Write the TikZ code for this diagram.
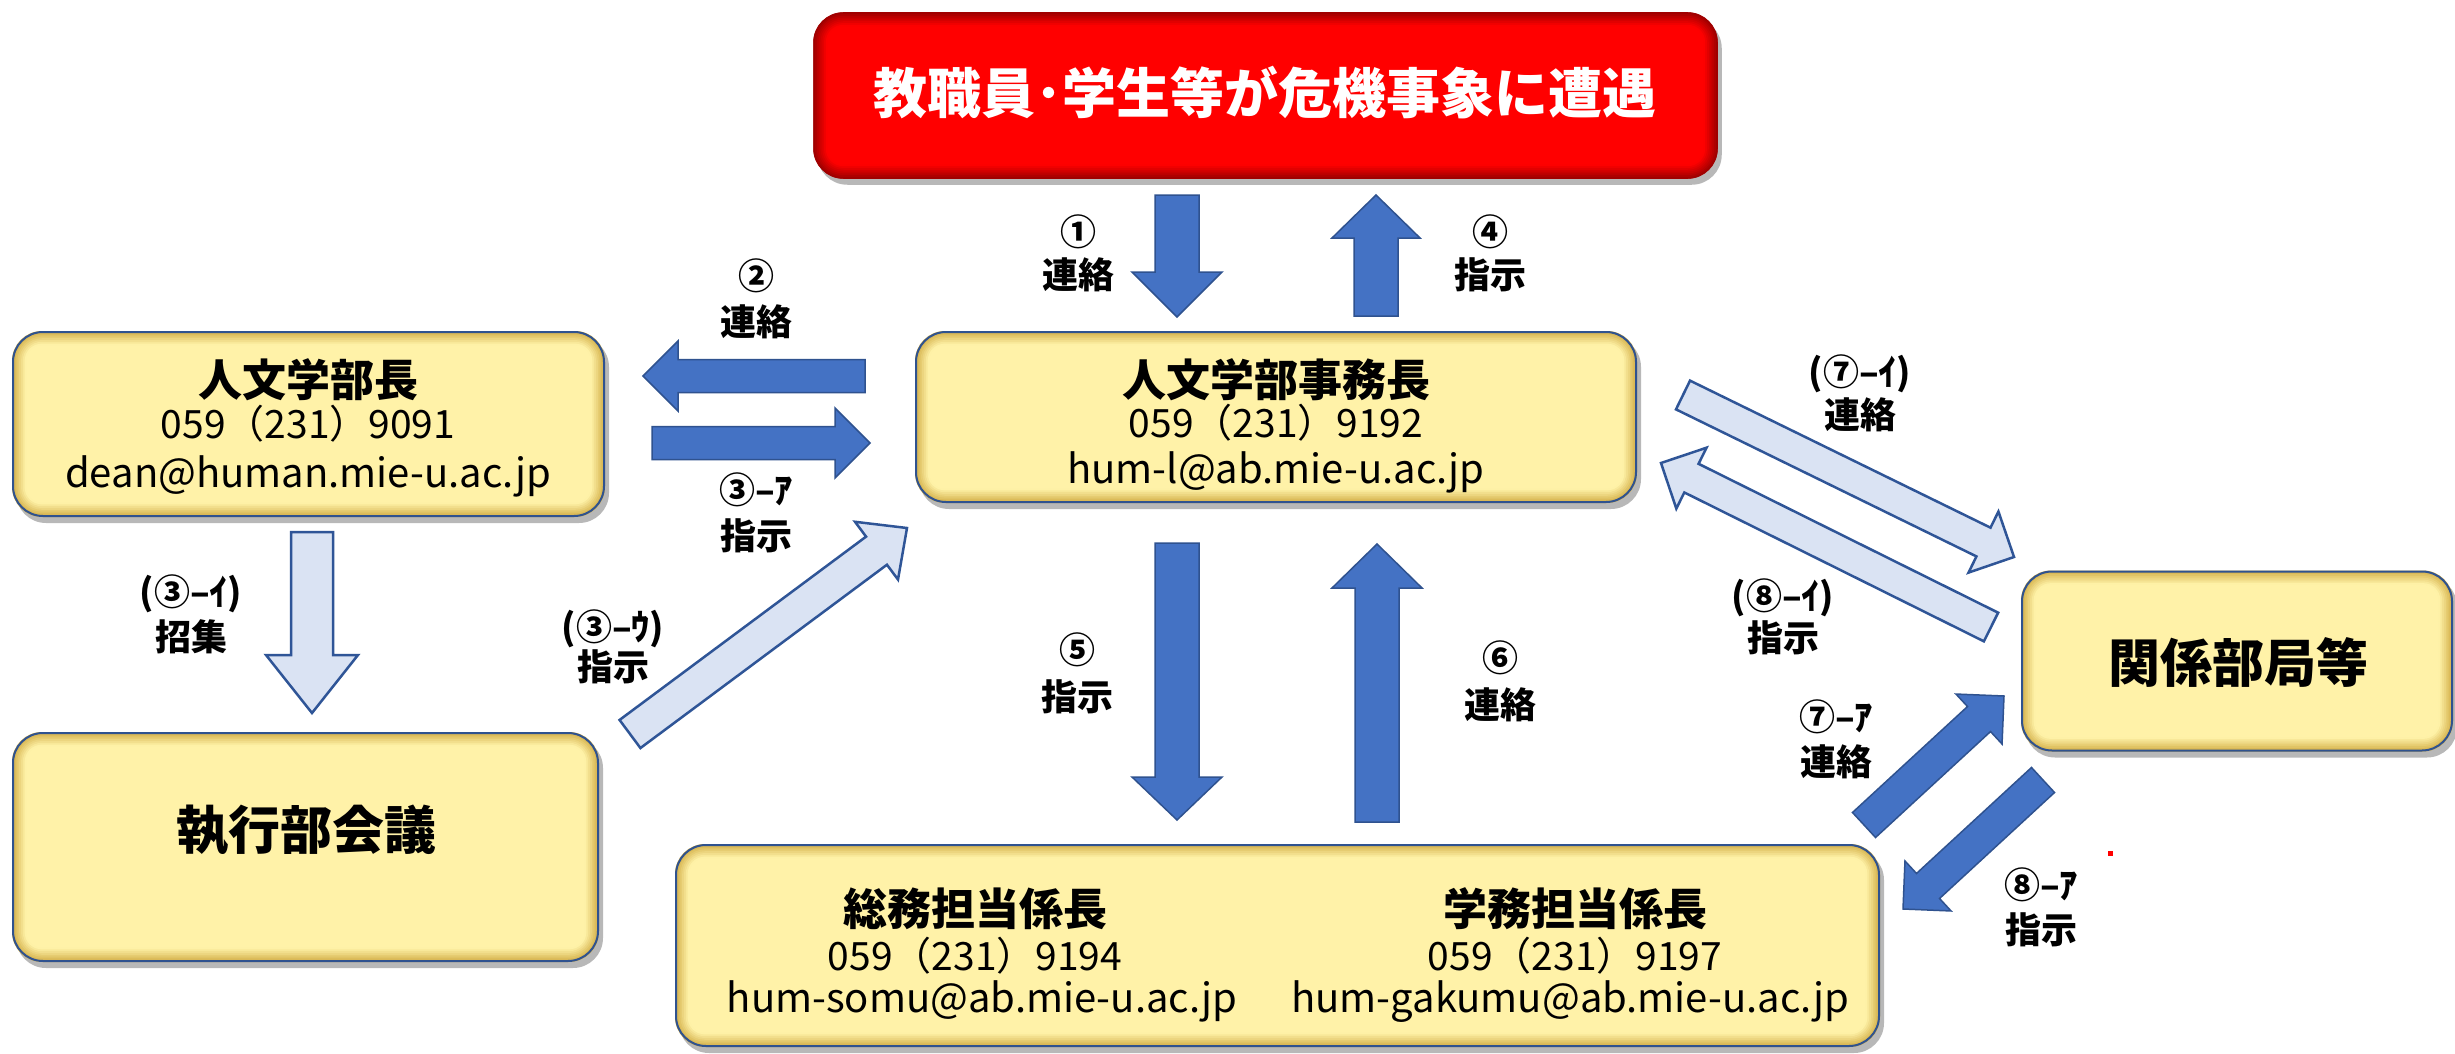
\documentclass[tikz,border=0pt]{standalone}
\usepackage{fontspec}
\setmainfont{Noto Sans CJK JP}
\usetikzlibrary{calc}
\pgfdeclarelayer{bg}
\pgfsetlayers{bg,main}
\definecolor{ylight}{HTML}{FFF2A8}
\definecolor{ydark}{HTML}{D4B04A}
\definecolor{edgeblue}{HTML}{2F528F}
\definecolor{darkarrow}{HTML}{4472C4}
\definecolor{lightarrow}{HTML}{DAE3F3}
\definecolor{lightedge}{HTML}{2F5597}
\definecolor{rlight}{HTML}{FF0000}
\definecolor{rdark}{HTML}{A00000}

% bevelled fill under a node: #1 node, #2 dark colour, #3 light colour, #4 radius (number)
\newcommand\bevelfill[4]{%
  \fill[black,opacity=.28,rounded corners=#4pt] ($(#1.south west)+(4,6)$) rectangle ($(#1.north east)+(4,6)$);
  \foreach \i in {0,...,8}{%
    \pgfmathtruncatemacro\pp{min(100,\i*14)}%
    \pgfmathsetmacro\dd{\i*1.8}%
    \pgfmathsetmacro\rr{max(1,#4-\i*1.8)}%
    \fill[#3!\pp!#2, rounded corners=\rr pt] ($(#1.south west)+(\dd,-\dd)$) rectangle ($(#1.north east)+(-\dd,\dd)$);
  }%
}
% block arrow: #1 style, #2 start, #3 tip, #4 shaft half width, #5 head half width, #6 head length
\newcommand\blockarr[6]{%
  \path ($(#3)!#6!(#2)$) coordinate (hb);
  \draw[#1] ($(#2)!#4!90:(#3)$) -- ($(hb)!#4!90:(#3)$) -- ($(hb)!#5!90:(#3)$) -- (#3)
    -- ($(hb)!#5!-90:(#3)$) -- ($(hb)!#4!-90:(#3)$) -- ($(#2)!#4!-90:(#3)$) -- cycle;
}

\begin{document}
\begin{tikzpicture}[x=1pt,y=-1pt,
  box/.style={draw=edgeblue, line width=2pt, rounded corners=30pt, inner sep=0pt},
  redbox/.style={draw=rdark, line width=1.5pt, rounded corners=30pt, inner sep=0pt},
  ttl/.style={inner sep=0pt, text height=34pt, text depth=0pt, font=\bfseries\fontsize{44}{48}\selectfont},
  phn/.style={inner sep=0pt, text height=28.5pt, text depth=0pt, font=\fontsize{39}{44}\selectfont},
  eml/.style={inner sep=0pt, text height=24pt, text depth=0pt, font=\fontsize{40}{44}\selectfont},
  big/.style={inner sep=0pt, text height=40pt, text depth=0pt, font=\bfseries\fontsize{52}{56}\selectfont},
  redt/.style={inner sep=0pt, text height=40pt, text depth=0pt, text=white, font=\bfseries\fontsize{54}{58}\selectfont},
  lbl/.style={inner sep=0pt, text height=27pt, text depth=0pt, font=\bfseries\fontsize{36}{40}\selectfont},
  darr/.style={fill=darkarrow, draw=edgeblue, line width=1.5pt, line join=miter},
  larr/.style={fill=lightarrow, draw=lightedge, line width=2.5pt, line join=miter}
]
\useasboundingbox (0,0) rectangle (2455,1054);

% ---- boxes ----
\node[redbox, minimum width=903pt, minimum height=165pt] (red) at (1265.5,95.5) {};
\node[box, minimum width=591pt, minimum height=184pt] (dean) at (308.5,424) {};
\node[box, minimum width=720pt, minimum height=170pt] (office) at (1276,417) {};
\node[box, minimum width=585pt, minimum height=228pt] (exec) at (305.5,847) {};
\node[box, minimum width=1203pt, minimum height=201pt] (staff) at (1277.5,945.5) {};
\node[box, minimum width=430pt, minimum height=179pt] (kankei) at (2237,661) {};

\begin{pgfonlayer}{bg}
  \fill[white] (0,0) rectangle (2455,1054);
  \bevelfill{red}{rdark}{rlight}{30}
  \bevelfill{dean}{ydark}{ylight}{30}
  \bevelfill{office}{ydark}{ylight}{30}
  \bevelfill{exec}{ydark}{ylight}{30}
  \bevelfill{staff}{ydark}{ylight}{30}
  \bevelfill{kankei}{ydark}{ylight}{30}
\end{pgfonlayer}

% ---- texts ----
\node[redt] (redT) at (1265,94) {教職員･学生等が危機事象に遭遇};

\node[ttl] (deanT) at (308,379) {人文学部長};
\node[phn] (deanP) at (308,424) {059（231）9091};
\node[eml] (deanE) at (308,475) {dean@human.mie-u.ac.jp};

\node[ttl] (officeT) at (1276,379) {人文学部事務長};
\node[phn] (officeP) at (1276,423) {059（231）9192};
\node[eml] (officeE) at (1276,471) {hum-l@ab.mie-u.ac.jp};

\node[big] (execT) at (306,829) {執行部会議};
\node[big] (kankeiT) at (2238,662) {関係部局等};

\node[ttl] (somuT) at (975,908) {総務担当係長};
\node[phn] (somuP) at (975,956) {059（231）9194};
\node[eml] (somuE) at (982,1000) {hum-somu@ab.mie-u.ac.jp};
\node[ttl] (gakuT) at (1575,908) {学務担当係長};
\node[phn] (gakuP) at (1575,956) {059（231）9197};
\node[eml] (gakuE) at (1570,1000) {hum-gakumu@ab.mie-u.ac.jp};

% ---- arrow end points ----
\coordinate (a1s) at (1177,195);  \coordinate (a1e) at (1177,317);
\coordinate (a4s) at (1376,316);  \coordinate (a4e) at (1376,195);
\coordinate (a2s) at (865,376);   \coordinate (a2e) at (643,376);
\coordinate (a3s) at (652,443);   \coordinate (a3e) at (870,443);
\coordinate (a5s) at (1177,543);  \coordinate (a5e) at (1177,820);
\coordinate (a6s) at (1377,822);  \coordinate (a6e) at (1377,544);
\coordinate (a7s) at (1864,825);  \coordinate (a7e) at (2004,696);
\coordinate (a8s) at (2043,780);  \coordinate (a8e) at (1903,909);
\coordinate (b3is) at (312,532);  \coordinate (b3ie) at (312,713);
\coordinate (b3us) at (630,734);  \coordinate (b3ue) at (907,528);
\coordinate (b7s) at (1683,395);  \coordinate (b7e) at (2014,557);
\coordinate (b8s) at (1991,627);  \coordinate (b8e) at (1661,463);

% ---- dark arrows ----
\blockarr{darr}{a1s}{a1e}{22pt}{45pt}{45pt}
\blockarr{darr}{a4s}{a4e}{22pt}{44pt}{43pt}
\blockarr{darr}{a2s}{a2e}{16.5pt}{35pt}{35pt}
\blockarr{darr}{a3s}{a3e}{16.5pt}{35pt}{35pt}
\blockarr{darr}{a5s}{a5e}{22pt}{45pt}{43pt}
\blockarr{darr}{a6s}{a6e}{22pt}{45pt}{44pt}
\blockarr{darr}{a7s}{a7e}{17pt}{34pt}{34pt}
\blockarr{darr}{a8s}{a8e}{17pt}{34pt}{34pt}
% ---- light arrows ----
\blockarr{larr}{b3is}{b3ie}{21pt}{46pt}{58pt}
\blockarr{larr}{b3us}{b3ue}{17.5pt}{36pt}{38pt}
\blockarr{larr}{b7s}{b7e}{16pt}{34pt}{34pt}
\blockarr{larr}{b8s}{b8e}{16pt}{34pt}{34pt}

% ---- labels ----
\node[lbl] (l1a) at (1078,232) {①};   \node[lbl] (l1b) at (1078,275) {連絡};
\node[lbl] (l4a) at (1490,232) {④};   \node[lbl] (l4b) at (1490,275) {指示};
\node[lbl] (l2a) at (756,276) {②};    \node[lbl] (l2b) at (756,322) {連絡};
\node[lbl] (l3a) at (756,490) {③–ｱ};  \node[lbl] (l3b) at (756,536) {指示};
\node[lbl] (l3ia) at (191,592) {(③–ｲ)}; \node[lbl] (l3ib) at (191,637) {招集};
\node[lbl] (l3ua) at (613,627) {(③–ｳ)}; \node[lbl] (l3ub) at (613,667) {指示};
\node[lbl] (l5a) at (1077,650) {⑤};   \node[lbl] (l5b) at (1077,697) {指示};
\node[lbl] (l6a) at (1500,658) {⑥};   \node[lbl] (l6b) at (1500,705) {連絡};
\node[lbl] (l7ia) at (1860,372) {(⑦–ｲ)}; \node[lbl] (l7ib) at (1860,415) {連絡};
\node[lbl] (l8ia) at (1783,596) {(⑧–ｲ)}; \node[lbl] (l8ib) at (1783,638) {指示};
\node[lbl] (l7aa) at (1836,717) {⑦–ｱ};  \node[lbl] (l7ab) at (1836,762) {連絡};
\node[lbl] (l8aa) at (2041,885) {⑧–ｱ};  \node[lbl] (l8ab) at (2041,930) {指示};

% small red mark
\fill[red] (2108,851) rectangle (2113,856);
\end{tikzpicture}
\end{document}
